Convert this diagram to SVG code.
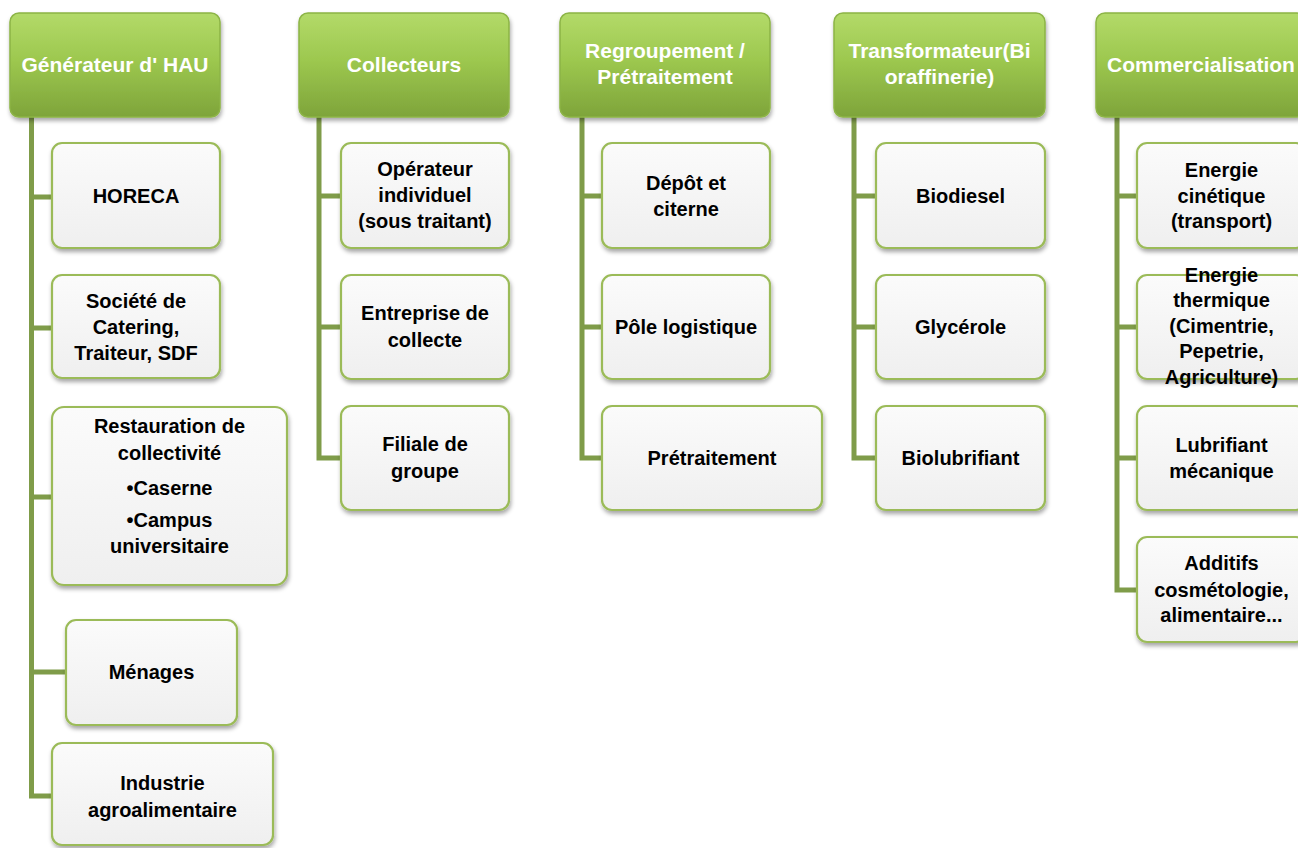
<svg xmlns="http://www.w3.org/2000/svg" width="1298" height="848" viewBox="0 0 1298 848">
<defs>
<linearGradient id="hg" x1="0" y1="0" x2="0" y2="1">
<stop offset="0" stop-color="#b3da69"/>
<stop offset="0.45" stop-color="#9dc84f"/>
<stop offset="1" stop-color="#7ea43a"/>
</linearGradient>
<linearGradient id="cg" x1="0" y1="0" x2="0" y2="1">
<stop offset="0" stop-color="#fbfbfb"/>
<stop offset="1" stop-color="#efefef"/>
</linearGradient>
<filter id="sh" x="-10%" y="-10%" width="125%" height="130%">
<feDropShadow dx="1" dy="3" stdDeviation="2.2" flood-color="#000" flood-opacity="0.35"/>
</filter>
</defs>
<style>
.h rect{fill:url(#hg);stroke:#8cb446;stroke-width:1.5;filter:url(#sh)}
.c rect{fill:url(#cg);stroke:#9bbb59;stroke-width:2.2;filter:url(#sh)}
text{font-family:"Liberation Sans",Arial,sans-serif;font-weight:bold;font-size:20px;text-anchor:middle}
.h text{fill:#ffffff;font-size:21px}
.c text{fill:#000000}
.ln{fill:none;stroke:#7f9c49;stroke-width:5;stroke-linejoin:miter}
</style>
<g id="connectors">
<path class="ln" d="M31.5,117 V796 H52 M31.5,197 H52 M31.5,328 H52 M31.5,497 H52 M31.5,672 H66"/>
<path class="ln" d="M319,117 V458 H341 M319,196 H341 M319,327 H341"/>
<path class="ln" d="M582,117 V458 H602 M582,196 H602 M582,327 H602"/>
<path class="ln" d="M854,117 V458 H876 M854,196 H876 M854,327 H876"/>
<path class="ln" d="M1117,117 V590 H1137 M1117,196 H1137 M1117,327 H1137 M1117,458 H1137"/>
</g>
<g id="h1" class="h"><rect x="10" y="13" width="210" height="104" rx="9"/><text x="115" y="72">Générateur d' HAU</text></g>
<g id="h2" class="h"><rect x="299" y="13" width="210" height="104" rx="9"/><text x="404" y="72">Collecteurs</text></g>
<g id="h3" class="h"><rect x="560" y="13" width="210" height="104" rx="9"/><text x="665" y="58">Regroupement /</text><text x="665" y="84">Prétraitement</text></g>
<g id="h4" class="h"><rect x="834" y="13" width="211" height="104" rx="9"/><text x="939.5" y="58">Transformateur(Bi</text><text x="939.5" y="84">oraffinerie)</text></g>
<g id="h5" class="h"><rect x="1096" y="13" width="210" height="104" rx="9"/><text x="1201" y="72">Commercialisation</text></g>

<g id="c1a" class="c"><rect x="52" y="143" width="168" height="105" rx="10"/><text x="136" y="203">HORECA</text></g>
<g id="c1b" class="c"><rect x="52" y="275" width="168" height="103" rx="10"/><text x="136" y="308">Société de</text><text x="136" y="334">Catering,</text><text x="136" y="360">Traiteur, SDF</text></g>
<g id="c1c" class="c"><rect x="52" y="407" width="235" height="178" rx="12"/><text x="169.5" y="433">Restauration de</text><text x="169.5" y="460">collectivité</text><text x="169.5" y="495">•Caserne</text><text x="169.5" y="527">•Campus</text><text x="169.5" y="553">universitaire</text></g>
<g id="c1d" class="c"><rect x="66" y="620" width="171" height="105" rx="10"/><text x="151.5" y="679">Ménages</text></g>
<g id="c1e" class="c"><rect x="52" y="743" width="221" height="102" rx="10"/><text x="162.5" y="790">Industrie</text><text x="162.5" y="817">agroalimentaire</text></g>

<g id="c2a" class="c"><rect x="341" y="143" width="168" height="105" rx="10"/><text x="425" y="176">Opérateur</text><text x="425" y="202">individuel</text><text x="425" y="228">(sous traitant)</text></g>
<g id="c2b" class="c"><rect x="341" y="275" width="168" height="104" rx="10"/><text x="425" y="320">Entreprise de</text><text x="425" y="347">collecte</text></g>
<g id="c2c" class="c"><rect x="341" y="406" width="168" height="104" rx="10"/><text x="425" y="451">Filiale de</text><text x="425" y="478">groupe</text></g>

<g id="c3a" class="c"><rect x="602" y="143" width="168" height="105" rx="10"/><text x="686" y="190">Dépôt et</text><text x="686" y="216">citerne</text></g>
<g id="c3b" class="c"><rect x="602" y="275" width="168" height="104" rx="10"/><text x="686" y="334">Pôle logistique</text></g>
<g id="c3c" class="c"><rect x="602" y="406" width="220" height="104" rx="10"/><text x="712" y="465">Prétraitement</text></g>

<g id="c4a" class="c"><rect x="876" y="143" width="169" height="105" rx="10"/><text x="960.5" y="203">Biodiesel</text></g>
<g id="c4b" class="c"><rect x="876" y="275" width="169" height="104" rx="10"/><text x="960.5" y="334">Glycérole</text></g>
<g id="c4c" class="c"><rect x="876" y="406" width="169" height="104" rx="10"/><text x="960.5" y="465">Biolubrifiant</text></g>

<g id="c5a" class="c"><rect x="1137" y="143" width="169" height="105" rx="10"/><text x="1221.5" y="177">Energie</text><text x="1221.5" y="203">cinétique</text><text x="1221.5" y="228">(transport)</text></g>
<g id="c5b" class="c"><rect x="1137" y="275" width="169" height="104" rx="10"/><text x="1221.5" y="282">Energie</text><text x="1221.5" y="307">thermique</text><text x="1221.5" y="333">(Cimentrie,</text><text x="1221.5" y="358">Pepetrie,</text><text x="1221.5" y="384">Agriculture)</text></g>
<g id="c5c" class="c"><rect x="1137" y="406" width="169" height="104" rx="10"/><text x="1221.5" y="452">Lubrifiant</text><text x="1221.5" y="478">mécanique</text></g>
<g id="c5d" class="c"><rect x="1137" y="537" width="169" height="105" rx="10"/><text x="1221.5" y="570">Additifs</text><text x="1221.5" y="597">cosmétologie,</text><text x="1221.5" y="622">alimentaire...</text></g>
</svg>
